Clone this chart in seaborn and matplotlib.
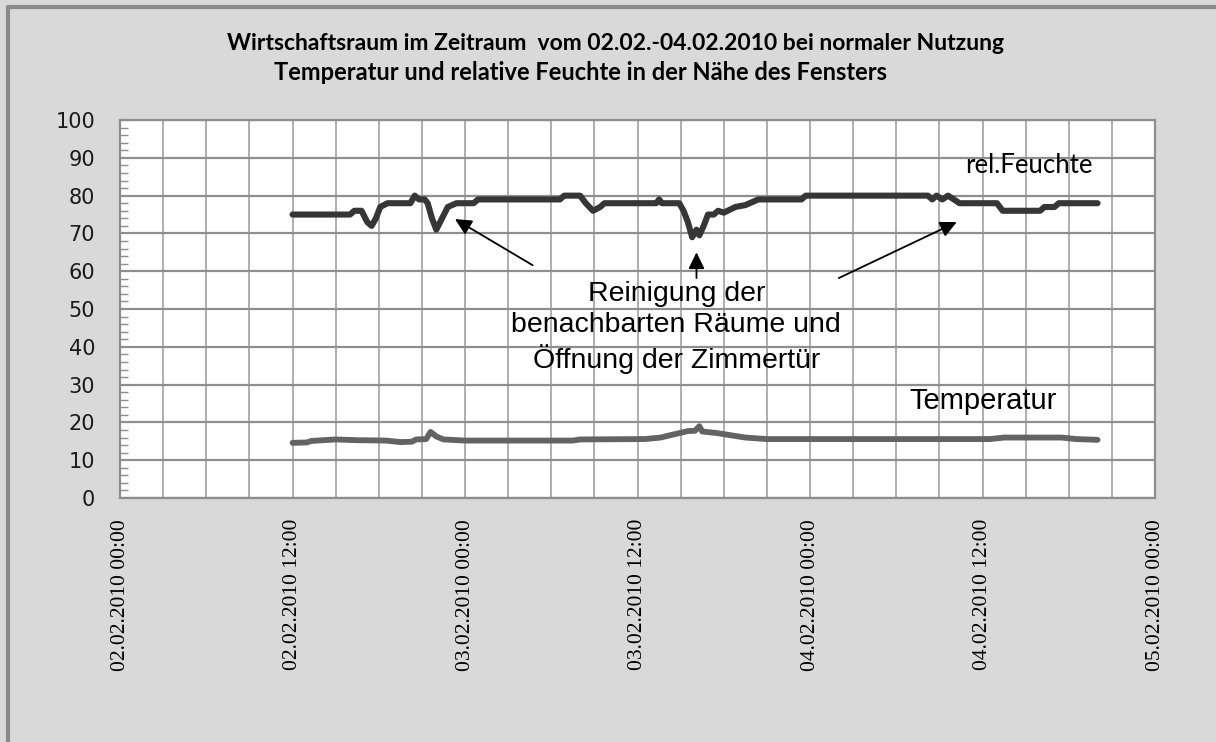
import matplotlib.pyplot as plt
import matplotlib.dates as mdates
from matplotlib.lines import Line2D
from matplotlib.ticker import MultipleLocator
import seaborn as sns
import numpy as np
import pandas as pd


# values, time as hours after 02.02.2010 00:00
start = pd.Timestamp('2010-02-02 00:00')
x_end_hours = 72

feuchte_hours = [12.0, 16.0, 16.3, 16.8, 17.2, 17.5, 17.8, 18.1, 18.6, 20.2, 20.5, 20.8, 21.2, 21.4,
                 21.7, 22.0, 22.4, 22.8, 23.4, 24.6, 24.9, 30.6, 30.9, 32.0, 32.4, 32.9, 33.4, 33.7,
                 37.3, 37.5, 37.7, 38.9, 39.2, 39.5, 39.8, 40.1, 40.3, 40.6, 40.9, 41.3, 41.6, 42.0,
                 42.8, 43.5, 44.4, 47.4, 47.7, 56.2, 56.5, 56.8, 57.2, 57.6, 58.0, 58.4, 61.0, 61.4,
                 64.0, 64.3, 65.0, 65.3, 68.0]
feuchte_values = [75, 75, 76, 76, 73, 72, 74, 77, 78, 78, 80, 79, 79, 78,
                  74, 71, 74, 77, 78, 78, 79, 79, 80, 80, 78, 76, 77, 78,
                  78, 79, 78, 78, 76, 73, 69, 71, 69.5, 72, 75, 75, 76, 75.5,
                  77, 77.5, 79, 79, 80, 80, 79, 80, 79, 80, 79, 78, 78, 76,
                  76, 77, 77, 78, 78]

temp_hours = [12.0, 13.0, 13.3, 15.0, 16.5, 18.5, 19.5, 20.3, 20.6, 21.3, 21.6, 22.0, 22.5, 24.0,
              31.5, 32.0, 36.5, 37.6, 38.7, 39.5, 40.0, 40.3, 40.5, 41.5, 42.5, 43.5, 45.0, 60.5,
              61.5, 65.5, 66.5, 68.0]
temp_values = [14.6, 14.7, 15.1, 15.5, 15.3, 15.2, 14.8, 14.9, 15.5, 15.6, 17.5, 16.3, 15.5, 15.2,
               15.2, 15.5, 15.6, 16.0, 17.0, 17.7, 17.8, 19.0, 17.6, 17.2, 16.6, 16.0, 15.6, 15.6,
               16.0, 16.0, 15.6, 15.4]

title_1 = 'Wirtschaftsraum im Zeitraum  vom 02.02.-04.02.2010 bei normaler Nutzung'
title_2 = 'Temperatur und relative Feuchte in der Nähe des Fensters'
note_text = 'Reinigung der\nbenachbarten Räume und\nÖffnung der Zimmertür'


def t(h):
    return start + pd.Timedelta(hours=h)


df_feuchte = pd.DataFrame({'Zeit': start + pd.to_timedelta(feuchte_hours, unit='h'),
                           'Wert': feuchte_values})
df_temp = pd.DataFrame({'Zeit': start + pd.to_timedelta(temp_hours, unit='h'),
                        'Wert': temp_values})

sns.set_theme(style='white')
plt.rcParams['font.family'] = ['DejaVu Sans']
plt.rcParams['text.color'] = 'black'

fig = plt.figure(figsize=(12.16, 7.42), dpi=100, facecolor='#d9d9d9')
ax = fig.add_axes([0.0987, 0.3288, 0.8512, 0.5094])
ax.set_facecolor('white')

sns.lineplot(data=df_feuchte, x='Zeit', y='Wert', ax=ax, color='#363636', linewidth=4.4)
sns.lineplot(data=df_temp, x='Zeit', y='Wert', ax=ax, color='#636363', linewidth=4.2)

ax.set_xlim(t(0), t(x_end_hours))
ax.set_ylim(0, 100)
ax.set_xlabel('')
ax.set_ylabel('')

# axes like the Excel chart: 12 h labels, 3 h grid, 10 % grid with minor ticks
ax.xaxis.set_major_locator(mdates.HourLocator(byhour=[0, 12]))
ax.xaxis.set_minor_locator(mdates.HourLocator(interval=3))
ax.xaxis.set_major_formatter(mdates.DateFormatter('%d.%m.%Y %H:%M'))
ax.yaxis.set_major_locator(MultipleLocator(10))
ax.yaxis.set_minor_locator(MultipleLocator(2))

ax.grid(True, which='both', axis='x', color='#a8a8a8', linewidth=1.3)
ax.grid(True, which='major', axis='y', color='#8e8e8e', linewidth=1.6)
ax.set_axisbelow(True)

ax.tick_params(axis='x', which='major', direction='out', length=5, width=1.2, color='#8e8e8e',
               pad=10, labelsize=15.5, labelrotation=90, labelcolor='black')
ax.tick_params(axis='x', which='minor', length=0)
ax.tick_params(axis='y', which='major', direction='out', length=6, width=1.2, color='#8e8e8e',
               pad=12, labelsize=15, labelcolor='#1a1a1a')
ax.tick_params(axis='y', which='minor', direction='in', length=6, width=1, color='#8e8e8e', left=True)
for lab in ax.get_xticklabels():
    lab.set_family('Liberation Serif')

for side in ['left', 'right', 'top', 'bottom']:
    ax.spines[side].set_color('#8e8e8e')
    ax.spines[side].set_linewidth(1.6)

# notes and arrows
ax.text(t(63.2), 88, 'rel.Feuchte', ha='center', va='center', fontsize=18.5, family='Lato')
ax.text(t(60.0), 25.6, 'Temperatur', ha='center', va='center', fontsize=21, family='Liberation Sans')
ax.text(t(38.7), 45.2, note_text, ha='center', va='center', fontsize=20.5, family='Liberation Sans',
        linespacing=1.25)

arrow = dict(arrowstyle='-|>,head_length=0.45,head_width=0.22', color='black', lw=1.3,
             mutation_scale=22, shrinkA=0, shrinkB=0)
ax.annotate('', xy=(t(23.3), 73.8), xytext=(t(28.7), 61.6), arrowprops=arrow)
ax.annotate('', xy=(t(40.1), 65.0), xytext=(t(40.1), 58.2), arrowprops=arrow)
ax.annotate('', xy=(t(58.2), 73.0), xytext=(t(50.0), 58.2), arrowprops=arrow)

# title
fig.text(615 / 1216, 1 - 44 / 742, title_1, ha='center', va='center', fontsize=16.5,
         fontweight='bold', family='Lato')
fig.text(581 / 1216, 1 - 73 / 742, title_2, ha='center', va='center', fontsize=17,
         fontweight='bold', family='Lato')

# outer chart border (left and top visible)
fig.add_artist(Line2D([8 / 1216, 8 / 1216], [0, 1 - 7 / 742], transform=fig.transFigure,
                      color='#8a8a8a', linewidth=3))
fig.add_artist(Line2D([8 / 1216, 1], [1 - 7 / 742, 1 - 7 / 742], transform=fig.transFigure,
                      color='#8a8a8a', linewidth=3))

plt.savefig('out.png', dpi=100, facecolor=fig.get_facecolor())
